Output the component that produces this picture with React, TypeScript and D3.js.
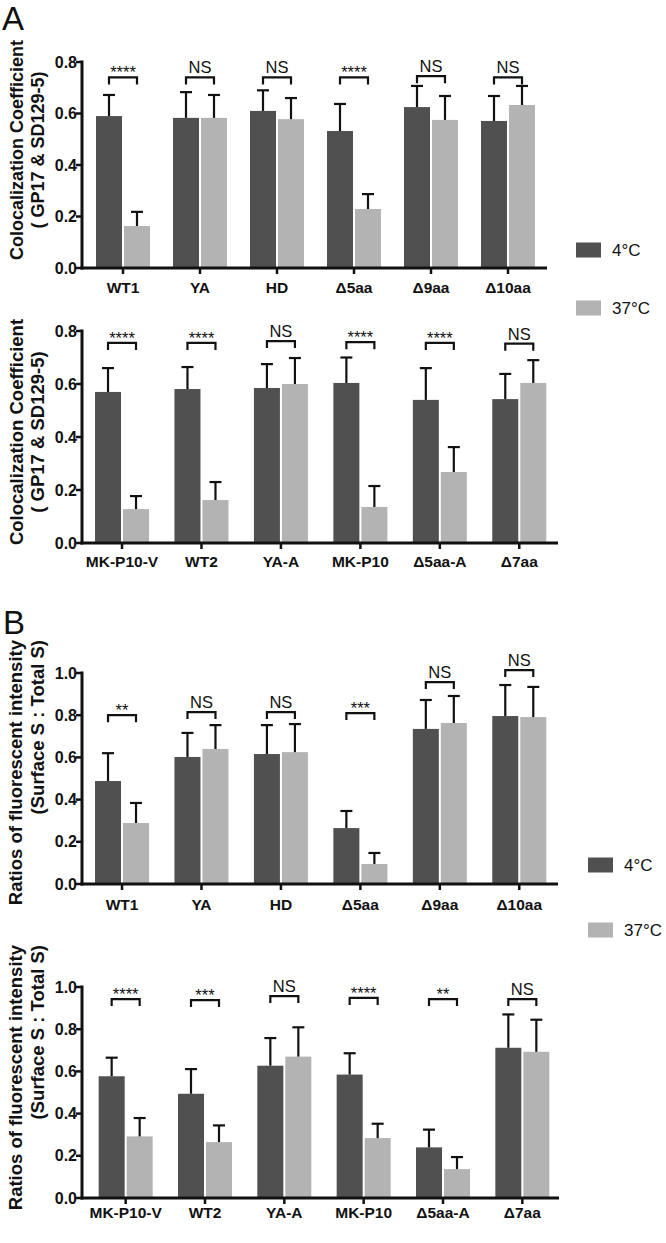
import React from "react";
import * as d3 from "d3";

// ---------- DATA ----------
const catsA1 = ["WT1", "YA", "HD", "Δ5aa", "Δ9aa", "Δ10aa"];
const coldA1 = [0.59, 0.583, 0.61, 0.532, 0.625, 0.571];
const coldSdA1 = [0.082, 0.1, 0.08, 0.105, 0.082, 0.097];
const warmA1 = [0.163, 0.583, 0.578, 0.229, 0.575, 0.633];
const warmSdA1 = [0.055, 0.089, 0.082, 0.058, 0.093, 0.074];
const sigA1 = ["****", "NS", "NS", "****", "NS", "NS"];
const brA1 = [0.74, 0.74, 0.74, 0.74, 0.745, 0.74];

const catsA2 = ["MK-P10-V", "WT2", "YA-A", "MK-P10", "Δ5aa-A", "Δ7aa"];
const coldA2 = [0.57, 0.581, 0.585, 0.604, 0.54, 0.543];
const coldSdA2 = [0.09, 0.083, 0.09, 0.096, 0.12, 0.095];
const warmA2 = [0.128, 0.162, 0.6, 0.136, 0.268, 0.604];
const warmSdA2 = [0.049, 0.068, 0.098, 0.079, 0.094, 0.086];
const sigA2 = ["****", "****", "NS", "****", "****", "NS"];
const brA2 = [0.755, 0.755, 0.762, 0.758, 0.755, 0.752];

const catsB1 = ["WT1", "YA", "HD", "Δ5aa", "Δ9aa", "Δ10aa"];
const coldB1 = [0.488, 0.602, 0.616, 0.265, 0.735, 0.796];
const coldSdB1 = [0.132, 0.114, 0.137, 0.081, 0.137, 0.147];
const warmB1 = [0.289, 0.64, 0.625, 0.095, 0.763, 0.791];
const warmSdB1 = [0.095, 0.113, 0.133, 0.052, 0.128, 0.143];
const sigB1 = ["**", "NS", "NS", "***", "NS", "NS"];
const brB1 = [0.8, 0.815, 0.815, 0.81, 0.957, 1.014];

const catsB2 = ["MK-P10-V", "WT2", "YA-A", "MK-P10", "Δ5aa-A", "Δ7aa"];
const coldB2 = [0.577, 0.494, 0.627, 0.585, 0.24, 0.712];
const coldSdB2 = [0.088, 0.117, 0.131, 0.101, 0.084, 0.158];
const warmB2 = [0.292, 0.265, 0.67, 0.284, 0.137, 0.693];
const warmSdB2 = [0.087, 0.079, 0.139, 0.068, 0.057, 0.152];
const sigB2 = ["****", "***", "NS", "****", "**", "NS"];
const brB2 = [0.943, 0.938, 0.957, 0.948, 0.943, 0.943];

const ticksA = [0, 0.2, 0.4, 0.6, 0.8];
const ticksB = [0, 0.2, 0.4, 0.6, 0.8, 1.0];
const legendLabels = ["4°C", "37°C"];
const titleA = ["Colocalization Coefficient", "( GP17 & SD129-5)"];
const titleB = ["Ratios of fluorescent intensity", "(Surface S : Total S)"];

// ---------- STYLE ----------
const DARK = "#505050";
const LIGHT = "#b3b3b3";
const FONT = "'Liberation Sans', Arial, Helvetica, sans-serif";

type Cfg = {
  cats: string[];
  cold: number[];
  coldSd: number[];
  warm: number[];
  warmSd: number[];
  sig: string[];
  br: number[];
  ticks: number[];
  yMax: number;
  yTop: number;
  yBottom: number;
  axisX0: number;
  axisX1: number;
  band: [number, number];
  labelOff: number;
};

function Chart({ c }: { c: Cfg }) {
  const y = d3.scaleLinear().domain([0, c.yMax]).range([c.yBottom, c.yTop]);
  const x = d3.scaleBand<string>().domain(c.cats).range(c.band).padding(0);
  const bw = 26;
  const cx = (cat: string) => (x(cat) as number) + x.bandwidth() / 2;
  const fmt = d3.format(".1f");
  return (
    <g>
      {c.cats.map((cat, i) => {
        const m = cx(cat);
        const dL = m - 1 - bw / 2;
        const lL = m + 1 + bw / 2;
        const bars = [
          { v: c.cold[i], sd: c.coldSd[i], col: DARK, xc: dL },
          { v: c.warm[i], sd: c.warmSd[i], col: LIGHT, xc: lL },
        ];
        const by = y(c.br[i]);
        return (
          <g key={cat}>
            {bars.map((b, j) => (
              <g key={j}>
                <rect x={b.xc - bw / 2} y={y(b.v)} width={bw} height={y(0) - y(b.v)} fill={b.col} />
                <line x1={b.xc} x2={b.xc} y1={y(b.v)} y2={y(b.v + b.sd)} stroke="#111" strokeWidth={2.2} />
                <line x1={b.xc - 6} x2={b.xc + 6} y1={y(b.v + b.sd)} y2={y(b.v + b.sd)} stroke="#111" strokeWidth={2.2} />
              </g>
            ))}
            <path
              d={`M${dL},${by + 7}V${by}H${lL}V${by + 7}`}
              fill="none"
              stroke="#111"
              strokeWidth={2.2}
            />
            {c.sig[i] === "NS" ? (
              <text x={m} y={by - 4} textAnchor="middle" fontSize={16.5} fontFamily={FONT} fill="#111">
                NS
              </text>
            ) : (
              <text x={m} y={by + 1} textAnchor="middle" fontSize={16.5} fontFamily={FONT} fill="#111">
                {c.sig[i]}
              </text>
            )}
            <line x1={m} x2={m} y1={y(0)} y2={y(0) + 6} stroke="#111" strokeWidth={2.5} />
            <text
              x={m}
              y={y(0) + c.labelOff}
              textAnchor="middle"
              fontSize={15.5}
              fontWeight="bold"
              fontFamily={FONT}
              fill="#111"
            >
              {cat}
            </text>
          </g>
        );
      })}
      {/* y axis */}
      <line x1={c.axisX0} x2={c.axisX0} y1={y(c.yMax) - 1.5} y2={y(0) + 1.5} stroke="#111" strokeWidth={3} />
      {c.ticks.map((t) => (
        <g key={t}>
          <line x1={c.axisX0 - 6} x2={c.axisX0} y1={y(t)} y2={y(t)} stroke="#111" strokeWidth={2.5} />
          <text
            x={c.axisX0 - 5}
            y={y(t) + 5.5}
            textAnchor="end"
            fontSize={16}
            fontWeight="bold"
            fontFamily={FONT}
            fill="#111"
          >
            {fmt(t)}
          </text>
        </g>
      ))}
      {/* x axis */}
      <line x1={c.axisX0 - 1.5} x2={c.axisX1} y1={y(0)} y2={y(0)} stroke="#111" strokeWidth={3} />
    </g>
  );
}

function YTitle({ lines, x1, x2, y, anchor, size }: { lines: string[]; x1: number; x2: number; y: number; anchor: string; size: number }) {
  return (
    <g fontFamily={FONT} fontWeight="bold" fontSize={size} fill="#111">
      <text transform={`translate(${x1},${y}) rotate(-90)`} textAnchor={anchor}>
        {lines[0]}
      </text>
      <text transform={`translate(${x2},${y}) rotate(-90)`} textAnchor={anchor}>
        {lines[1]}
      </text>
    </g>
  );
}

function Legend({ x, y1, y2 }: { x: number; y1: number; y2: number }) {
  return (
    <g fontFamily={FONT} fontSize={17} fill="#111">
      <rect x={x} y={y1 - 7.5} width={25} height={15} fill={DARK} />
      <text x={x + 36} y={y1 + 6}>{legendLabels[0]}</text>
      <rect x={x} y={y2 - 7.5} width={25} height={15} fill={LIGHT} />
      <text x={x + 36} y={y2 + 6}>{legendLabels[1]}</text>
    </g>
  );
}

export default function App() {
  const A1: Cfg = {
    cats: catsA1, cold: coldA1, coldSd: coldSdA1, warm: warmA1, warmSd: warmSdA1, sig: sigA1, br: brA1,
    ticks: ticksA, yMax: 0.8, yTop: 62, yBottom: 268, axisX0: 82, axisX1: 547, band: [84.5, 546.5], labelOff: 25,
  };
  const A2: Cfg = {
    cats: catsA2, cold: coldA2, coldSd: coldSdA2, warm: warmA2, warmSd: warmSdA2, sig: sigA2, br: brA2,
    ticks: ticksA, yMax: 0.8, yTop: 331, yBottom: 543, axisX0: 82, axisX1: 558, band: [82.3, 559], labelOff: 24,
  };
  const B1: Cfg = {
    cats: catsB1, cold: coldB1, coldSd: coldSdB1, warm: warmB1, warmSd: warmSdB1, sig: sigB1, br: brB1,
    ticks: ticksB, yMax: 1.0, yTop: 673, yBottom: 884, axisX0: 82, axisX1: 558, band: [82.3, 559], labelOff: 26,
  };
  const B2: Cfg = {
    cats: catsB2, cold: coldB2, coldSd: coldSdB2, warm: warmB2, warmSd: warmSdB2, sig: sigB2, br: brB2,
    ticks: ticksB, yMax: 1.0, yTop: 987, yBottom: 1198, axisX0: 82, axisX1: 559, band: [86, 562], labelOff: 20,
  };
  return (
    <svg
      width={666}
      height={1243}
      viewBox="0 0 666 1243"
      style={{ position: "absolute", left: 0, top: 0, background: "#fff" }}
    >
      <rect width={666} height={1243} fill="#fff" />
      <text x={2} y={30} fontFamily={FONT} fontSize={33} fill="#111">A</text>
      <text x={3} y={634} fontFamily={FONT} fontSize={33} fill="#111">B</text>

      <YTitle lines={titleA} x1={23} x2={44} y={150} anchor="middle" size={18} />
      <YTitle lines={titleA} x1={23} x2={44} y={432} anchor="middle" size={18.5} />
      <YTitle lines={titleB} x1={22} x2={44} y={640} anchor="end" size={18.5} />
      <YTitle lines={titleB} x1={22} x2={44} y={945} anchor="end" size={18.5} />

      <Chart c={A1} />
      <Chart c={A2} />
      <Chart c={B1} />
      <Chart c={B2} />

      <Legend x={576} y1={250} y2={308} />
      <Legend x={588} y1={865} y2={930} />
    </svg>
  );
}
